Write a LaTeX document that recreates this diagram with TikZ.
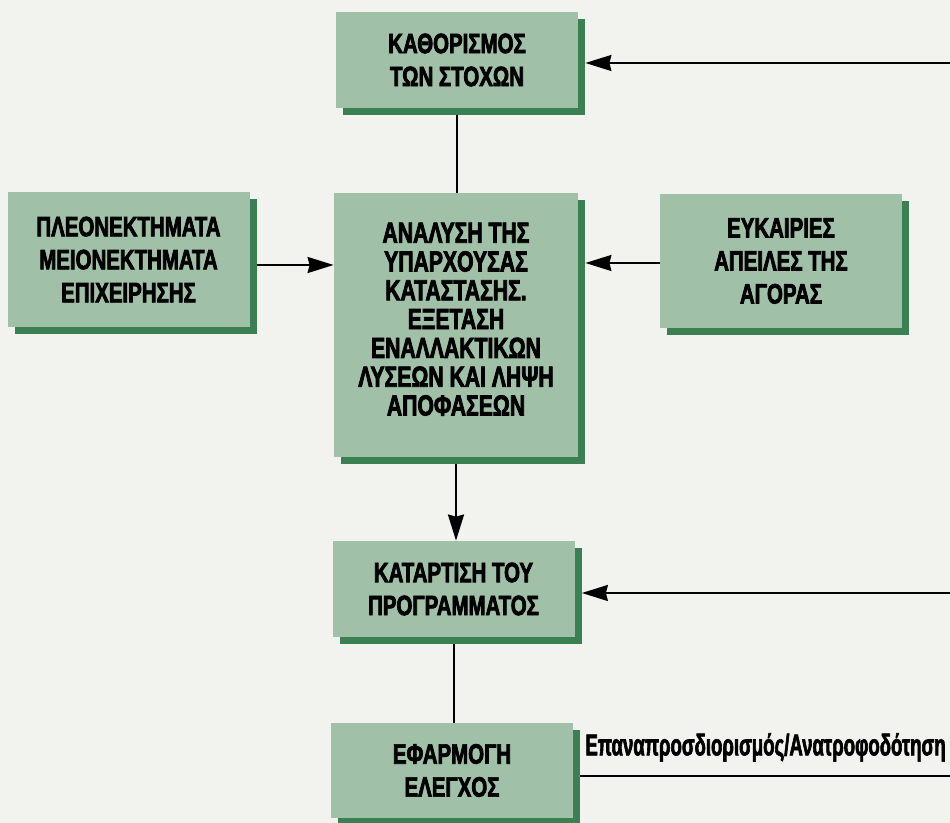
\documentclass[tikz,border=0pt]{standalone}
\usepackage{fontspec}
\setmainfont{Liberation Sans}[FakeStretch=0.73, BoldFeatures={FakeBold=2.6}]
\newfontfamily\lblfont{Liberation Sans Bold}[FakeStretch=0.62, FakeBold=2]
\usetikzlibrary{arrows.meta,shadows}
\definecolor{bg}{RGB}{242,243,239}
\definecolor{boxfill}{RGB}{160,192,168}
\definecolor{shadowgreen}{RGB}{58,128,82}
\tikzset{
  box/.style={fill=boxfill, align=center, inner sep=0pt,
    font=\bfseries\fontsize{14}{16.5}\selectfont,
    minimum width=121pt,
    drop shadow={shadow xshift=3.5pt, shadow yshift=-3.5pt, fill=shadowgreen, opacity=1}},
  conn/.style={line width=1pt, black},
  arr/.style={conn, -{Stealth[length=13pt,width=8pt,inset=1pt]}}
}
\begin{document}
\begin{tikzpicture}[x=0.5pt,y=-0.5pt]
\fill[bg] (0,0) rectangle (950,823);
\useasboundingbox (0,0) rectangle (950,823);

\node[box, minimum height=48pt] (b1) at (457,60) {ΚΑΘΟΡΙΣΜΟΣ\\ΤΩΝ ΣΤΟΧΩΝ};
\node[box, minimum height=67.5pt] (b2) at (128.5,259.5) {ΠΛΕΟΝΕΚΤΗΜΑΤΑ\\ΜΕΙΟΝΕΚΤΗΜΑΤΑ\\ΕΠΙΧΕΙΡΗΣΗΣ};
\node[box, minimum width=122pt, minimum height=132pt, font=\bfseries\fontsize{14.5}{14.4}\selectfont] (b3) at (456,325) {ΑΝΑΛΥΣΗ ΤΗΣ\\ΥΠΑΡΧΟΥΣΑΣ\\ΚΑΤΑΣΤΑΣΗΣ.\\ΕΞΕΤΑΣΗ\\ΕΝΑΛΛΑΚΤΙΚΩΝ\\ΛΥΣΕΩΝ ΚΑΙ ΛΗΨΗ\\ΑΠΟΦΑΣΕΩΝ\\[-8.5pt]};
\node[box, minimum height=67pt] (b4) at (781,261) {ΕΥΚΑΙΡΙΕΣ\\ΑΠΕΙΛΕΣ ΤΗΣ\\ΑΓΟΡΑΣ};
\node[box, minimum height=48pt] (b5) at (453.5,589) {ΚΑΤΑΡΤΙΣΗ ΤΟΥ\\ΠΡΟΓΡΑΜΜΑΤΟΣ};
\node[box, minimum height=47.5pt] (b6) at (452,770.5) {ΕΦΑΡΜΟΓΗ\\ΕΛΕΓΧΟΣ};

\coordinate (f1) at (950,63);
\coordinate (f5) at (950,593);
\coordinate (f6) at (950,776);

% vertical chain
\draw[conn] ([yshift=-3.5pt]b1.south) -- (b1.south |- b3.north);
\draw[arr] ([yshift=-3.5pt]b3.south) -- (b3.south |- b5.north);
\draw[conn] ([yshift=-3.5pt]b5.south) -- (b5.south |- b6.north);

% side inputs
\draw[arr] ([xshift=3.5pt]b2.east |- 0,265) -- (b3.west |- 0,265);
\draw[arr] (b4.west |- 0,263) -- ([xshift=3.5pt]b3.east |- 0,263);

% feedback lines
\draw[arr] (f1) -- ([xshift=3.5pt]f1 -| b1.east);
\draw[arr] (f5) -- ([xshift=3.5pt]f5 -| b5.east);
\draw[conn] ([xshift=3.5pt]f6 -| b6.east) -- (f6);
\node[anchor=south west, inner sep=0pt, font=\lblfont\fontsize{15}{17}\selectfont] (lbl) at (585,762) {Επαναπροσδιορισμός/Ανατροφοδότηση};
\end{tikzpicture}
\end{document}
